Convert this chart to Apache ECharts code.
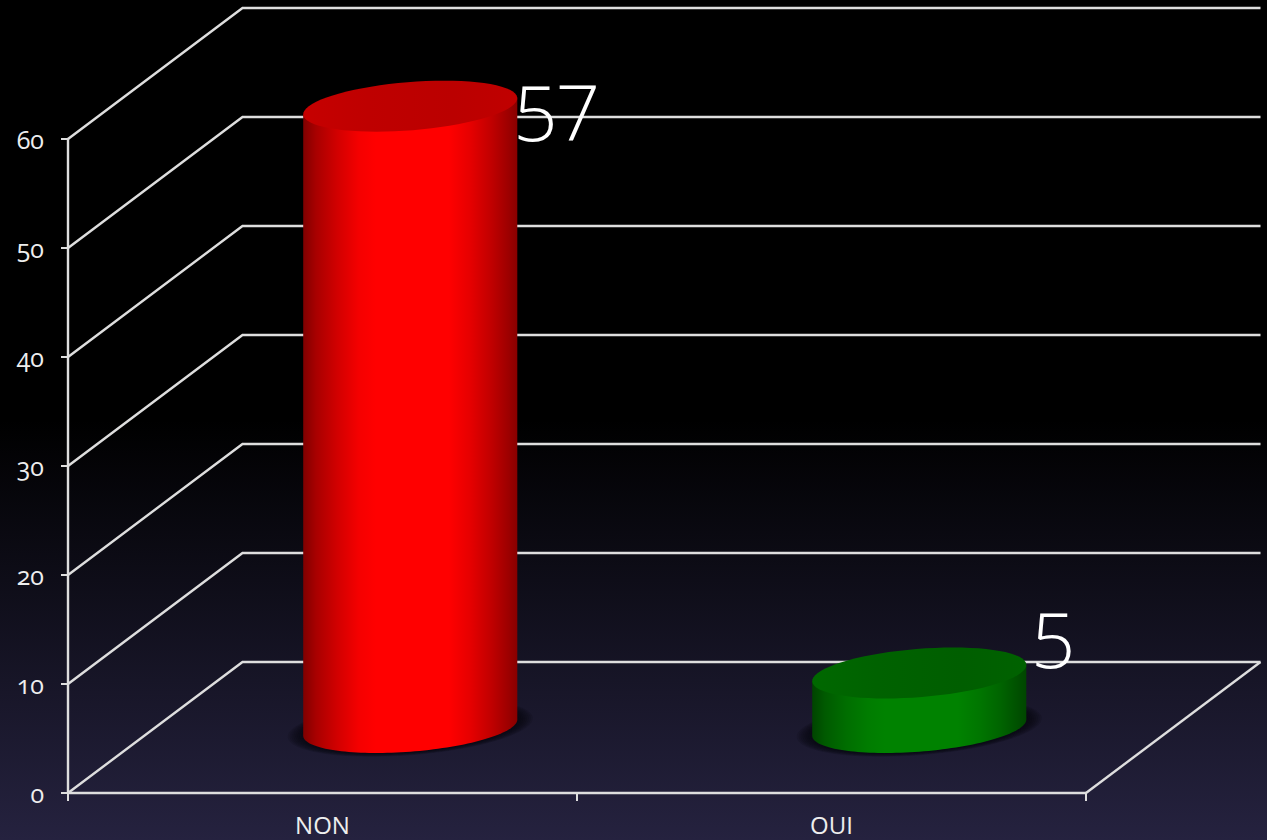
<!DOCTYPE html>
<html>
<head>
<meta charset="utf-8">
<style>
html,body{margin:0;padding:0;background:#000}
#c{width:1267px;height:840px}
#c svg text{font-variant-numeric:oldstyle-nums !important;font-feature-settings:"onum" 1 !important}
</style>
<script src="https://cdn.jsdelivr.net/npm/echarts@6/dist/echarts.min.js"></script>
</head>
<body>
<div id="c"></div>
<script>
const categories = ['NON', 'OUI'];
const values = [57, 5];
const yTicks = [0, 10, 20, 30, 40, 50, 60];
const labelNudges = [[147, -9], [135, -49]];
const shadePositions = [0, 0.06, 0.16, 0.26, 0.34, 0.68, 0.78, 0.88, 0.96, 1];
const faces = [
  { stops: ['#800000', '#a80000', '#d20000', '#f50000', '#ff0000', '#ff0000', '#e60000', '#c00000', '#9c0000', '#880000'], top: ['#c60000', '#bf0000', '#bb0000', '#c00000'] },
  { stops: ['#004400', '#005a00', '#006e00', '#007c00', '#008200', '#008200', '#007600', '#006400', '#005000', '#004600'], top: ['#006800', '#006200', '#005e00', '#006200'] }
];

const chart = echarts.init(document.getElementById('c'), null, { renderer: 'svg' });
const lineColor = '#dedede';
const fontFamily = '"Open Sans", "Noto Sans", sans-serif';
const DEPTH = [174.5, -131];

function hgrad(cols, positions) {
  return { type: 'linear', x: 0, y: 0, x2: 1, y2: 0, colorStops: cols.map((c, i) => ({ offset: positions[i], color: c })) };
}
function ellipsePts(cx, cy, from, to, scale) {
  const s = scale || 1, pts = [];
  for (let i = 0; i <= 72; i++) {
    const t = from + (to - from) * i / 72;
    pts.push([cx + s * (101.5 * Math.cos(t) + 34 * Math.sin(t)), cy - s * 25.5 * Math.sin(t)]);
  }
  return pts;
}
const T0 = Math.atan2(34, 101.5);

function renderWall(params, api) {
  const cs = params.coordSys;
  const v = api.value(0);
  const y = api.coord([0, v])[1];
  const x0 = cs.x, x1 = cs.x + cs.width;
  const style = { stroke: lineColor, lineWidth: 2.4, fill: null };
  const children = [{
    type: 'polyline',
    shape: { points: [[x0, y], [x0 + DEPTH[0], y + DEPTH[1]], [x1 + DEPTH[0], y + DEPTH[1]]] },
    style
  }];
  if (v === 0) {
    children.push({ type: 'line', shape: { x1, y1: y, x2: x1 + DEPTH[0], y2: y + DEPTH[1] }, style });
  }
  return { type: 'group', children };
}

function renderCylinder(params, api) {
  const i = params.dataIndex;
  const v = api.value(1);
  const top = api.coord([i, v]);
  const base = api.coord([i, 0]);
  const cx = top[0] + DEPTH[0] / 2 + 0.5;
  const yTop = top[1] + DEPTH[1] / 2;
  const yBase = base[1] + DEPTH[1] / 2;
  const face = faces[i];
  const lower = ellipsePts(cx, yBase, T0, T0 - Math.PI);
  const rightTop = ellipsePts(cx, yTop, T0, T0)[0];
  const leftTop = ellipsePts(cx, yTop, T0 - Math.PI, T0 - Math.PI)[0];
  const body = [rightTop].concat(lower, [leftTop]);
  const children = [];
  for (let k = 8; k >= 1; k--) {
    children.push({
      type: 'polygon',
      shape: { points: ellipsePts(cx, yBase, 0, Math.PI * 2, 1 + k * 0.018) },
      style: { fill: 'rgba(6,6,14,0.14)' }
    });
  }
  children.push(
    { type: 'polygon', shape: { points: body }, style: { fill: hgrad(face.stops, shadePositions) } },
    { type: 'polygon', shape: { points: ellipsePts(cx, yTop, 0, Math.PI * 2) }, style: { fill: hgrad(face.top, [0, 0.3, 0.7, 1]) } },
    {
      type: 'text',
      style: {
        x: cx + labelNudges[i][0], y: yTop + labelNudges[i][1],
        text: String(v), fill: '#ffffff', fontFamily, fontWeight: 300, fontSize: 78,
        align: 'center', verticalAlign: 'middle'
      }
    }
  );
  return { type: 'group', children };
}

chart.setOption({
  animation: false,
  backgroundColor: {
    type: 'linear', x: 0, y: 0, x2: 0, y2: 1,
    colorStops: [
      { offset: 0, color: '#000000' },
      { offset: 0.5, color: '#000000' },
      { offset: 1, color: '#25223f' }
    ]
  },
  grid: { left: 68, right: 181, top: 139, bottom: 47 },
  xAxis: {
    type: 'category',
    data: categories,
    boundaryGap: true,
    axisLine: { lineStyle: { color: lineColor, width: 2.4 } },
    axisTick: { show: true, alignWithLabel: false, length: 8, lineStyle: { color: lineColor, width: 2 } },
    axisLabel: { color: '#eeeeee', fontFamily, fontSize: 24, margin: 19 },
    z: 1
  },
  yAxis: {
    type: 'value',
    min: 0, max: 60, interval: 10,
    axisLine: { show: true, lineStyle: { color: lineColor, width: 2.4 } },
    axisTick: { show: true, length: 7, lineStyle: { color: lineColor, width: 2 } },
    axisLabel: { color: '#eeeeee', fontFamily, fontSize: 25, margin: 24, padding: [8, 0, 0, 0], formatter: v => yTicks.includes(v) ? String(v) : '' },
    splitLine: { show: false },
    z: 1
  },
  series: [
    { type: 'custom', coordinateSystem: 'cartesian2d', clip: false, renderItem: renderWall, encode: { y: 0 }, data: yTicks.map(v => [v]), silent: true, z: 1 },
    { type: 'custom', coordinateSystem: 'cartesian2d', clip: false, renderItem: renderCylinder, encode: { x: 0, y: 1 }, data: values.map((v, i) => [i, v]), z: 5 }
  ]
});
</script>
</body>
</html>
